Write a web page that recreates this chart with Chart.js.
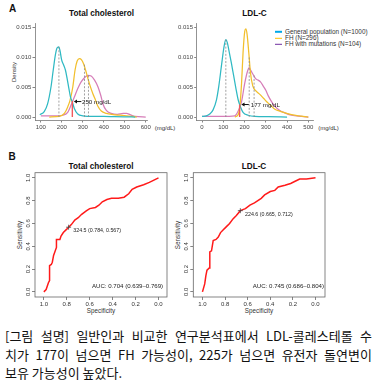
<!DOCTYPE html>
<html><head><meta charset="utf-8">
<script src="https://cdn.jsdelivr.net/npm/chart.js@4.4.1/dist/chart.umd.min.js"></script>
<style>
html,body{margin:0;padding:0;background:#fff;width:377px;height:383px;overflow:hidden;position:relative;font-family:"Liberation Sans",Arial,sans-serif;}
canvas{position:absolute;}
.t{position:absolute;white-space:nowrap;color:#222;line-height:1;}
.c{transform:translate(-50%,-50%);}
.r{transform:translate(-50%,-50%) rotate(-90deg);}
.ttl{font-weight:bold;font-size:8.2px;color:#111;}
.let{font-weight:bold;font-size:10px;color:#111;}
.ax{font-size:6px;color:#333;}
.lg{position:absolute;left:275px;font-size:6.4px;color:#333;white-space:nowrap;line-height:1;transform:translateY(-50%);}
.lg i{display:inline-block;width:7px;height:1.3px;vertical-align:middle;margin-right:3px;}
.cap{position:absolute;left:5px;width:367px;display:flex;justify-content:space-between;font-family:"Noto Sans CJK KR",sans-serif;font-size:13px;line-height:18px;color:#111;white-space:nowrap;}
.cap3{justify-content:flex-start;}
</style></head><body>

<div class="t let c" style="left:12.5px;top:8.5px">A</div>
<div class="t ttl c" style="left:101.5px;top:14.3px">Total cholesterol</div>
<div class="t ttl c" style="left:254.5px;top:14.3px">LDL-C</div>
<div class="t ax r" style="left:13.5px;top:72px">Density</div>
<div class="t ax c" style="left:165px;top:127.5px">(mg/dL)</div>
<div class="t ax c" style="left:328.5px;top:127.5px">(mg/dL)</div>
<div class="lg" style="top:31.7px"><i style="background:#00A8E8"></i>General population (N=1000)</div>
<div class="lg" style="top:37.9px"><i style="background:#FFC000"></i>FH (N=296)</div>
<div class="lg" style="top:44.2px"><i style="background:#7030A0"></i>FH with mutations (N=104)</div>

<div class="t let c" style="left:12px;top:156.7px">B</div>
<div class="t ttl c" style="left:101px;top:166.7px">Total cholesterol</div>
<div class="t ttl c" style="left:254px;top:167px">LDL-C</div>
<div class="t ax r" style="left:20px;top:235px;font-size:6.3px">Sensitivity</div>
<div class="t ax r" style="left:178px;top:235px;font-size:6.3px">Sensitivity</div>
<div class="t ax c" style="left:101px;top:310.5px;font-size:6.3px">Specificity</div>
<div class="t ax c" style="left:259px;top:310.5px;font-size:6.3px">Specificity</div>

<canvas id="dA1" width="170" height="140" style="left:0;top:0"></canvas>
<canvas id="dA2" width="207" height="140" style="left:170px;top:0"></canvas>
<canvas id="rB1" width="185" height="168" style="left:0;top:150px"></canvas>
<canvas id="rB2" width="202" height="168" style="left:175px;top:150px"></canvas>

<div class="cap" style="top:327px"><span>[그림</span><span>설명]</span><span>일반인과</span><span>비교한</span><span>연구분석표에서</span><span>LDL-콜레스테롤</span><span>수</span></div>
<div class="cap" style="top:346px"><span>치가</span><span>177이</span><span>넘으면</span><span>FH</span><span>가능성이,</span><span>225가</span><span>넘으면</span><span>유전자</span><span>돌연변이</span></div>
<div class="cap cap3" style="top:364px"><span>보유 가능성이 높았다.</span></div>

<script>
// ---------- DATA ----------
// Panel A: density (Total cholesterol)
const tcTicks = [100, 200, 300, 400, 500, 600];
const densTicks = [0, 0.005, 0.010, 0.015];
const tcGenX = [95, 116, 132, 148, 159, 169, 177, 185, 191, 199, 209, 217, 225, 233, 241, 250, 260, 276, 300, 350, 400, 450, 500, 550];
const tcGenY = [0.0004, 0.0009, 0.0022, 0.005, 0.0079, 0.0104, 0.0116, 0.0118, 0.0112, 0.0096, 0.0087, 0.0079, 0.0065, 0.0049, 0.0034, 0.0025, 0.0014, 0.0005, 0.0002, 0.0001, 0.0001, 0.00005, 0.00002, 0];
const tcFhX = [140, 188, 212, 228, 239, 252, 263, 273, 284, 294, 304, 313, 324, 336, 348, 361, 372, 388, 412, 445, 477, 509, 541, 557];
const tcFhY = [0, 0.0001, 0.0006, 0.0017, 0.0028, 0.005, 0.0079, 0.0094, 0.0098, 0.0096, 0.0089, 0.0079, 0.0065, 0.0051, 0.0039, 0.0028, 0.0018, 0.001, 0.0006, 0.0004, 0.0003, 0.0002, 0.0001, 0];
const tcMutX = [100, 172, 204, 228, 244, 260, 276, 292, 308, 324, 340, 356, 372, 385, 396, 412, 436, 464, 493, 509, 525, 549, 600];
const tcMutY = [0.0002, 0.0002, 0.0003, 0.0008, 0.002, 0.0034, 0.0048, 0.0059, 0.0066, 0.007, 0.0069, 0.0062, 0.0051, 0.0037, 0.0022, 0.0011, 0.0006, 0.00045, 0.0006, 0.0006, 0.0004, 0.0001, 0];
const tcMeanX = [186, 308, 327];
const tcMeanTop = [0.0118, 0.0088, 0.007];
const tcCut = 250, tcCutTop = 0.0027;
const tcArrow = {y: 0.0026, tip: 257, tail: 293, text: 296, label: "250 mg/dL"};

// Panel A: density (LDL-C)
const ldlTicks = [0, 100, 200, 300, 400, 500];
const ldlGenX = [0, 20, 36, 52, 68, 79, 91, 104, 112, 119, 127, 138, 149, 159, 170, 181, 193, 217, 248, 311, 400];
const ldlGenY = [0.0001, 0.0002, 0.0005, 0.0012, 0.0029, 0.0052, 0.0085, 0.0119, 0.013, 0.0125, 0.0111, 0.0091, 0.0069, 0.0049, 0.0029, 0.0017, 0.0008, 0.0003, 0.0001, 0.00005, 0];
const ldlFhX = [154, 170, 178, 186, 193, 201, 206, 212, 220, 228, 239, 256, 272, 288, 303, 319, 343, 366, 390, 421, 453, 500];
const ldlFhY = [0, 0.0004, 0.0018, 0.0057, 0.0108, 0.0144, 0.0148, 0.0139, 0.0108, 0.0074, 0.0052, 0.0043, 0.0038, 0.0032, 0.0026, 0.0021, 0.0013, 0.001, 0.0007, 0.0004, 0.0002, 0];
const ldlMutX = [0, 91, 154, 170, 186, 201, 214, 222, 230, 241, 253, 264, 275, 288, 300, 311, 327, 343, 366, 390, 421, 469, 500];
const ldlMutY = [0.0001, 0.0001, 0.0002, 0.001, 0.0026, 0.0057, 0.0077, 0.0083, 0.0078, 0.0071, 0.0064, 0.0062, 0.0059, 0.0052, 0.0045, 0.0036, 0.0026, 0.0018, 0.0011, 0.0007, 0.0003, 0.0001, 0];
const ldlMeanX = [112, 222, 245];
const ldlMeanTop = [0.013, 0.0102, 0.0072];
const ldlCut = 177, ldlCutTop = 0.0021;
const ldlArrow = {y: 0.0021, tip: 185, tail: 220, text: 229, label: "177 mg/dL"};

// Panel B: ROC curves
const rocTicks = [1.0, 0.8, 0.6, 0.4, 0.2, 0.0];
const tcSpec = [1.0, 0.98, 0.96, 0.95, 0.95, 0.935, 0.926, 0.915, 0.89, 0.89, 0.86, 0.85, 0.83, 0.80, 0.784, 0.76, 0.73, 0.70, 0.67, 0.63, 0.60, 0.55, 0.52, 0.49, 0.45, 0.41, 0.35, 0.30, 0.26, 0.23, 0.19, 0.13, 0.08, 0.04, 0];
const tcSens = [0, 0.02, 0.08, 0.1, 0.23, 0.24, 0.26, 0.32, 0.39, 0.46, 0.46, 0.49, 0.52, 0.55, 0.567, 0.59, 0.63, 0.65, 0.68, 0.71, 0.73, 0.74, 0.76, 0.79, 0.81, 0.82, 0.82, 0.83, 0.86, 0.90, 0.92, 0.94, 0.96, 0.98, 1.0];
const tcThr = {spec: 0.784, sens: 0.567, label: "324.5 (0.784, 0.567)"};
const tcAuc = {spec: 0.27, sens: 0.045, label: "AUC: 0.704 (0.639\u20130.769)"};
const ldlSpec = [1.0, 0.98, 0.97, 0.96, 0.94, 0.935, 0.92, 0.905, 0.88, 0.86, 0.84, 0.82, 0.79, 0.76, 0.73, 0.70, 0.665, 0.62, 0.58, 0.54, 0.51, 0.48, 0.45, 0.40, 0.36, 0.33, 0.27, 0.22, 0.18, 0.14, 0.08, 0];
const ldlSens = [0, 0.07, 0.14, 0.19, 0.21, 0.35, 0.36, 0.45, 0.46, 0.48, 0.52, 0.54, 0.57, 0.60, 0.64, 0.67, 0.712, 0.73, 0.76, 0.78, 0.80, 0.82, 0.85, 0.88, 0.89, 0.92, 0.935, 0.95, 0.97, 0.99, 0.99, 1.0];
const ldlThr = {spec: 0.665, sens: 0.712, label: "224.6 (0.665, 0.712)"};
const ldlAuc = {spec: 0.24, sens: 0.045, label: "AUC: 0.745 (0.686\u20130.804)"};

// ---------- STYLE ----------
const FONT = "'Liberation Sans', Arial, sans-serif";
Chart.defaults.font.family = FONT;
Chart.defaults.animation = false;
const C_GEN = '#2FB9C3', C_FH = '#F2BF2C', C_MUT = '#D67DB8', C_CUT = '#F0595C', C_DASH = '#8a8a8a';

const pts = (xs, ys) => xs.map((x, i) => ({x: x, y: ys[i]}));

function curve(xs, ys, color) {
  return {data: pts(xs, ys), showLine: true, borderColor: color, borderWidth: 1.25, pointRadius: 0, cubicInterpolationMode: 'monotone', fill: false};
}

const arrowPlugin = (arr) => ({
  id: 'arrow',
  afterDatasetsDraw(chart) {
    const {ctx, scales: {x, y}} = chart;
    const py = y.getPixelForValue(arr.y);
    const tx = x.getPixelForValue(arr.tip), ex = x.getPixelForValue(arr.tail);
    ctx.save();
    ctx.strokeStyle = '#111'; ctx.fillStyle = '#111'; ctx.lineWidth = 1;
    ctx.beginPath(); ctx.moveTo(tx + 2, py); ctx.lineTo(ex, py); ctx.stroke();
    ctx.beginPath(); ctx.moveTo(tx, py); ctx.lineTo(tx + 3.2, py - 2); ctx.lineTo(tx + 3.2, py + 2); ctx.closePath(); ctx.fill();
    ctx.font = '6.2px ' + FONT; ctx.fillStyle = '#222'; ctx.textBaseline = 'middle'; ctx.textAlign = 'left';
    ctx.fillText(arr.label, x.getPixelForValue(arr.text), py + 0.5);
    ctx.restore();
  }
});

function densityChart(id, o) {
  const ds = [];
  ds.push({data: [{x: o.cut, y: 0}, {x: o.cut, y: o.cutTop}], showLine: true, borderColor: C_CUT, borderWidth: 1.4, pointRadius: 0});
  o.meanX.forEach((mx, i) => ds.push({data: [{x: mx, y: 0}, {x: mx, y: o.meanTop[i]}], showLine: true, borderColor: C_DASH, borderWidth: 0.8, borderDash: [2, 1.6], pointRadius: 0}));
  ds.push(curve(o.genX, o.genY, C_GEN));
  ds.push(curve(o.fhX, o.fhY, C_FH));
  ds.push(curve(o.mutX, o.mutY, C_MUT));
  return new Chart(document.getElementById(id), {
    type: 'scatter',
    data: {datasets: ds},
    options: {
      responsive: false, devicePixelRatio: 1, animation: false,
      layout: {padding: {left: 0, top: 23, right: o.padRight, bottom: 0}},
      plugins: {legend: {display: false}, tooltip: {enabled: false}},
      scales: {
        x: {type: 'linear', min: o.xmin, max: o.xmax,
            afterFit: s => { s.height = 20; },
            afterBuildTicks: s => { s.ticks = o.ticks.map(v => ({value: v})); },
            ticks: {font: {size: 6}, color: '#444', padding: 1, maxRotation: 0, callback: v => String(v)},
            grid: {display: true, drawOnChartArea: false, drawTicks: true, tickLength: 2.5, color: '#666', lineWidth: 0.8},
            border: {display: true, color: '#777', width: 0.8}},
        y: {type: 'linear', min: -0.0005, max: 0.0158,
            afterFit: s => { s.width = o.yWidth; },
            afterBuildTicks: s => { s.ticks = densTicks.map(v => ({value: v})); },
            ticks: {font: {size: 6}, color: '#444', padding: 1.2, callback: v => v.toFixed(3)},
            grid: {display: true, drawOnChartArea: false, drawTicks: true, tickLength: 2.5, color: '#666', lineWidth: 0.8},
            border: {display: true, color: '#777', width: 0.8}}
      }
    },
    plugins: [arrowPlugin(o.arrow)]
  });
}

densityChart('dA1', {cut: tcCut, cutTop: tcCutTop, meanX: tcMeanX, meanTop: tcMeanTop,
  genX: tcGenX, genY: tcGenY, fhX: tcFhX, fhY: tcFhY, mutX: tcMutX, mutY: tcMutY,
  ticks: tcTicks, xmin: 72, xmax: 606, yWidth: 35, padRight: 23, arrow: tcArrow});
densityChart('dA2', {cut: ldlCut, cutTop: ldlCutTop, meanX: ldlMeanX, meanTop: ldlMeanTop,
  genX: ldlGenX, genY: ldlGenY, fhX: ldlFhX, fhY: ldlFhY, mutX: ldlMutX, mutY: ldlMutY,
  ticks: ldlTicks, xmin: -25, xmax: 522, yWidth: 26.7, padRight: 64, arrow: ldlArrow});

const rocPlugin = (thr, auc) => ({
  id: 'rocdeco',
  afterDatasetsDraw(chart) {
    const {ctx, chartArea: a, scales: {x, y}} = chart;
    ctx.save();
    ctx.strokeStyle = '#666'; ctx.lineWidth = 0.8;
    ctx.strokeRect(a.left, a.top, a.right - a.left, a.bottom - a.top);
    ctx.fillStyle = '#333'; ctx.font = '6px ' + FONT; ctx.textAlign = 'center'; ctx.textBaseline = 'middle';
    rocTicks.forEach(v => {
      const py = y.getPixelForValue(v);
      ctx.save(); ctx.translate(a.left - 6.6, py); ctx.rotate(-Math.PI / 2); ctx.fillText(v.toFixed(1), 0, 0); ctx.restore();
    });
    ctx.textAlign = 'left'; ctx.font = '5.3px ' + FONT; ctx.fillStyle = '#222';
    ctx.fillText(thr.label, x.getPixelForValue(thr.spec) + 4.7, y.getPixelForValue(thr.sens) + 3.5);
    ctx.textAlign = 'center'; ctx.font = '6.1px ' + FONT;
    ctx.fillText(auc.label, x.getPixelForValue(auc.spec), y.getPixelForValue(auc.sens));
    ctx.restore();
  }
});

function rocChart(id, o) {
  return new Chart(document.getElementById(id), {
    type: 'scatter',
    data: {datasets: [
      {data: [{x: o.thr.spec, y: o.thr.sens}], pointStyle: 'cross', pointRadius: 2.5, borderColor: '#444', borderWidth: 0.8, showLine: false},
      {data: pts(o.spec, o.sens), showLine: true, borderColor: '#FF1A1A', borderWidth: 1.5, pointRadius: 0, tension: 0}
    ]},
    options: {
      responsive: false, devicePixelRatio: 1, animation: false,
      layout: {padding: {left: 0, top: 22.7, right: o.padRight, bottom: 0}},
      plugins: {legend: {display: false}, tooltip: {enabled: false}},
      scales: {
        x: {type: 'linear', reverse: true, min: o.xmin, max: o.xmax,
            afterFit: s => { s.height = 21; },
            afterBuildTicks: s => { s.ticks = rocTicks.map(v => ({value: v})); },
            ticks: {font: {size: 6}, color: '#333', padding: 1, maxRotation: 0, callback: v => v.toFixed(1)},
            grid: {display: true, drawOnChartArea: false, drawTicks: true, tickLength: 3, color: '#666', lineWidth: 0.8},
            border: {display: false}},
        y: {type: 'linear', min: -0.045, max: 1.045,
            afterFit: s => { s.width = o.yWidth; },
            afterBuildTicks: s => { s.ticks = rocTicks.map(v => ({value: v})); },
            ticks: {display: false},
            grid: {display: true, drawOnChartArea: false, drawTicks: true, tickLength: 3, color: '#666', lineWidth: 0.8},
            border: {display: false}}
      }
    },
    plugins: [rocPlugin(o.thr, o.auc)]
  });
}

rocChart('rB1', {spec: tcSpec, sens: tcSens, thr: tcThr, auc: tcAuc, xmin: -0.074, xmax: 1.077, yWidth: 35, padRight: 18});
rocChart('rB2', {spec: ldlSpec, sens: ldlSens, thr: ldlThr, auc: ldlAuc, xmin: -0.084, xmax: 1.081, yWidth: 18.3, padRight: 52});
</script>
</body></html>
